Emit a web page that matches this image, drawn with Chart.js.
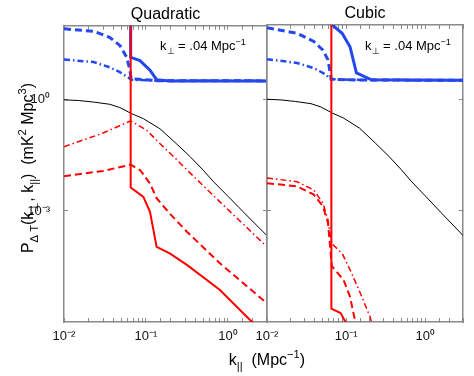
<!DOCTYPE html>
<html>
<head>
<meta charset="utf-8">
<script src="https://cdn.jsdelivr.net/npm/chart.js@4.4.1/dist/chart.umd.min.js"></script>
<style>
  html, body { margin: 0; padding: 0; background: #ffffff; }
  #wrap { position: relative; width: 474px; height: 376px; }
  canvas { position: absolute; left: 0; top: 0; }
</style>
</head>
<body>
<div id="wrap">
  <canvas id="c1" width="474" height="376"></canvas>
  <canvas id="c2" width="474" height="376"></canvas>
</div>
<script>
// ---------- data ----------
const panelTitles = ['Quadratic', 'Cubic'];
const xRange = [0.01, 3];
const yRange = [1e-6, 1e2];
const yTickValues = [1e-3, 1];

// black thin solid (same in both panels)
const kBlack = [0.01, 0.015, 0.023, 0.036, 0.048, 0.066, 0.093, 0.148, 0.234, 0.347, 0.5, 0.66, 1.0, 1.58, 3.0];
const pBlack = [1.0, 0.96, 0.87, 0.76, 0.62, 0.43, 0.31, 0.166, 0.066, 0.029, 0.0126, 0.0063, 0.0025, 0.00089, 0.000214];

// Quadratic panel
const kQuadBlueSolid = [0.065, 0.0651, 0.0845, 0.112, 0.135, 0.195, 3.0];
const pQuadBlueSolid = [1e5, 14.1, 11.5, 6.3, 3.5, 3.24, 3.24];
const kQuadBlueDash = [0.01, 0.023, 0.036, 0.048, 0.0582, 0.0638, 0.066, 0.1, 0.135, 3.0];
const pQuadBlueDash = [83, 71, 49, 29.5, 14.1, 6.3, 3.7, 3.5, 3.3, 3.25];
const kQuadBlueDashDot = [0.01, 0.023, 0.036, 0.048, 0.061, 0.066, 0.135, 3.0];
const pQuadBlueDashDot = [12.3, 10.5, 7.6, 5.6, 4.0, 3.5, 3.3, 3.25];
const kQuadRedSolid = [0.065, 0.0651, 0.093, 0.112, 0.135, 0.195, 0.316, 0.794, 1.85, 3.0];
const pQuadRedSolid = [1e5, 0.0043, 0.0024, 0.00095, 0.000107, 7.1e-5, 3.5e-5, 7.4e-6, 1.15e-6, 4.5e-7];
const kQuadRedDash = [0.01, 0.03, 0.065, 0.085, 0.112, 0.135, 0.195, 0.316, 0.794, 3.0];
const pQuadRedDash = [0.0087, 0.012, 0.0178, 0.0126, 0.0055, 0.0022, 0.00085, 0.000275, 3.9e-5, 3.2e-6];
const kQuadRedDashDot = [0.01, 0.03, 0.065, 0.102, 0.148, 0.234, 0.347, 0.794, 3.0];
const pQuadRedDashDot = [0.054, 0.127, 0.27, 0.151, 0.066, 0.025, 0.0105, 0.00178, 0.000107];

// Cubic panel
const kCubBlueSolid = [0.065, 0.0651, 0.089, 0.112, 0.135, 0.209, 3.0];
const pCubBlueSolid = [1e5, 105, 60, 26, 5.1, 3.35, 3.24];
const kCubBlueDash = [0.01, 0.024, 0.039, 0.051, 0.059, 0.065, 0.157, 3.0];
const pCubBlueDash = [84, 60, 36, 21, 11.5, 3.4, 3.3, 3.24];
const kCubBlueDashDot = [0.01, 0.024, 0.039, 0.056, 0.062, 0.157, 3.0];
const pCubBlueDashDot = [12, 9.5, 6.9, 4.6, 3.5, 3.3, 3.24];
const kCubRedSolid = [0.065, 0.0651, 0.085, 0.098, 0.12];
const pCubRedSolid = [1e5, 2.3e-6, 1.74e-6, 1.02e-6, 5e-7];
const kCubRedDash = [0.01, 0.024, 0.039, 0.051, 0.059, 0.066, 0.093, 0.112, 0.129, 0.14];
const pCubRedDash = [0.0055, 0.0045, 0.0027, 0.00129, 0.00046, 3.2e-5, 1.35e-5, 4.8e-6, 1.15e-6, 5e-7];
const kCubRedDashDot = [0.01, 0.024, 0.039, 0.051, 0.059, 0.065, 0.089, 0.117, 0.158, 0.2, 0.23];
const pCubRedDashDot = [0.0076, 0.006, 0.0036, 0.00158, 0.00056, 0.000132, 7.1e-5, 2.1e-5, 4.8e-6, 1.4e-6, 5e-7];

// ---------- helpers ----------
const BLUE = '#2448ee', RED = '#ff0000', AXIS = '#8a8a8a';
const FONT = 'Liberation Sans, Arial, Helvetica, sans-serif';
const SUP = {'-': '\u207B', '0': '\u2070', '1': '\u00B9', '2': '\u00B2', '3': '\u00B3', '4': '\u2074', '5': '\u2075', '6': '\u2076', '7': '\u2077', '8': '\u2078', '9': '\u2079'};
function supStr(n) { return String(n).split('').map(c => SUP[c] || c).join(''); }
function pts(ks, ps) { return ks.map((k, i) => ({ x: k, y: ps[i] })); }
function ds(ks, ps, color, width, dash) {
  return { data: pts(ks, ps), borderColor: color, borderWidth: width, borderDash: dash || [],
           pointRadius: 0, tension: 0, fill: false };
}
const DASH = [7, 4], DASHDOT = [6, 3, 1.5, 3];

function buildSets(p) {
  // first in list is drawn on top
  return [
    ds(p.rs[0], p.rs[1], RED, 2),
    ds(p.rd[0], p.rd[1], RED, 2, DASH),
    ds(p.rdd[0], p.rdd[1], RED, 1.5, DASHDOT),
    ds(p.bs[0], p.bs[1], BLUE, 3),
    ds(p.bd[0], p.bd[1], BLUE, 3, DASH),
    ds(p.bdd[0], p.bdd[1], BLUE, 2.5, DASHDOT),
    ds(kBlack, pBlack, '#000000', 1)
  ];
}

// rich text: segments [text, mode] with mode 'n' | 'sub' | 'sup'
function richWidth(ctx, segs, size) {
  let w = 0;
  for (const [t, m] of segs) {
    const s = m === 'n' ? size : size * 0.7;
    ctx.font = s + 'px ' + FONT;
    w += ctx.measureText(t).width;
  }
  return w;
}
function drawRich(ctx, segs, x, y, size) {
  let cx = x;
  ctx.textBaseline = 'alphabetic';
  ctx.textAlign = 'left';
  ctx.fillStyle = '#000';
  for (const [t, m] of segs) {
    const s = m === 'n' ? size : size * 0.7;
    const dy = m === 'sub' ? size * 0.3 : (m === 'sup' ? -size * 0.42 : 0);
    ctx.font = s + 'px ' + FONT;
    ctx.fillText(t, cx, y + dy);
    cx += ctx.measureText(t).width;
  }
}
const yTitle = [['P', 'n'], ['\u0394 T', 'sub'], ['(k', 'n'], ['\u22A5', 'sub'], [', k', 'n'], ['||', 'sub'], [')  (mK', 'n'], ['2', 'sup'], [' Mpc', 'n'], ['3', 'sup'], [')', 'n']];
const xTitle = [['k', 'n'], ['||', 'sub'], ['  (Mpc', 'n'], ['\u22121', 'sup'], [')', 'n']];
const kperpNote = [['k', 'n'], ['\u22A5', 'sub'], [' = .04 Mpc', 'n'], ['\u22121', 'sup']];

function textPlugin(drawAxisTitles, noteX) {
  return {
    id: 'texts',
    afterDraw(chart) {
      const ctx = chart.ctx;
      ctx.save();
      drawRich(ctx, kperpNote, noteX, 50, 13);
      if (drawAxisTitles) {
        const wx = richWidth(ctx, xTitle, 16);
        drawRich(ctx, xTitle, 267 - wx / 2, 365, 16);
        const wy = richWidth(ctx, yTitle, 16);
        ctx.translate(33, 168);
        ctx.rotate(-Math.PI / 2);
        drawRich(ctx, yTitle, -wy / 2, 0, 16);
      }
      ctx.restore();
    }
  };
}

function xLabel(v) {
  const l = Math.log10(v);
  const r = Math.round(l);
  return Math.abs(l - r) < 1e-6 ? '10' + supStr(r) : '';
}

function makeChart(id, title, sets, pad, yAxisWidth, showYLabels, drawAxisTitles, noteX) {
  const tickFont = { family: FONT, size: 13 };
  const common = {
    type: 'logarithmic', min: xRange[0], max: xRange[1]
  };
  return new Chart(document.getElementById(id), {
    type: 'line',
    data: { datasets: sets },
    options: {
      responsive: false, animation: false, events: [],
      layout: { padding: pad },
      plugins: { legend: { display: false }, tooltip: { enabled: false } },
      scales: {
        x: Object.assign({}, common, {
          position: 'bottom',
          grid: { drawOnChartArea: false, tickLength: -4, color: AXIS },
          border: { color: AXIS, width: 1.5 },
          ticks: { autoSkip: false, maxRotation: 0, padding: 11, color: '#111', font: tickFont, callback: xLabel },
          afterFit: s => { s.height = 54; }
        }),
        xTop: Object.assign({}, common, {
          position: 'top',
          grid: { drawOnChartArea: false, tickLength: -4, color: AXIS },
          border: { color: AXIS, width: 1.5 },
          ticks: { display: false },
          title: { display: true, text: title, color: '#000', font: { family: FONT, size: 16 }, padding: { top: 4, bottom: 0 } },
          afterFit: s => { s.height = 25; }
        }),
        y: {
          type: 'logarithmic', position: 'left', min: yRange[0], max: yRange[1],
          grid: { drawOnChartArea: false, tickLength: -4, color: AXIS },
          border: { color: AXIS, width: 1.5 },
          ticks: { display: showYLabels, padding: 18, color: '#111', font: tickFont,
                   callback: v => '10' + supStr(Math.round(Math.log10(v))) },
          afterBuildTicks: s => { s.ticks = yTickValues.map(v => ({ value: v })); },
          afterFit: s => { s.width = yAxisWidth; }
        },
        yRight: {
          type: 'logarithmic', position: 'right', min: yRange[0], max: yRange[1],
          grid: { drawOnChartArea: false, tickLength: -4, color: AXIS },
          border: { color: AXIS, width: 1.5 },
          ticks: { display: false },
          afterBuildTicks: s => { s.ticks = yTickValues.map(v => ({ value: v })); },
          afterFit: s => { s.width = 0; }
        }
      }
    },
    plugins: [textPlugin(drawAxisTitles, noteX)]
  });
}

const quad = {
  bs: [kQuadBlueSolid, pQuadBlueSolid], bd: [kQuadBlueDash, pQuadBlueDash], bdd: [kQuadBlueDashDot, pQuadBlueDashDot],
  rs: [kQuadRedSolid, pQuadRedSolid], rd: [kQuadRedDash, pQuadRedDash], rdd: [kQuadRedDashDot, pQuadRedDashDot]
};
const cub = {
  bs: [kCubBlueSolid, pCubBlueSolid], bd: [kCubBlueDash, pCubBlueDash], bdd: [kCubBlueDashDot, pCubBlueDashDot],
  rs: [kCubRedSolid, pCubRedSolid], rd: [kCubRedDash, pCubRedDash], rdd: [kCubRedDashDot, pCubRedDashDot]
};

makeChart('c1', panelTitles[0], buildSets(quad), { left: 0, right: 207, top: 0, bottom: 0 }, 64, true, true, 160);
makeChart('c2', panelTitles[1], buildSets(cub), { left: 267, right: 5, top: 0, bottom: 0 }, 0, false, false, 365);
</script>
</body>
</html>
